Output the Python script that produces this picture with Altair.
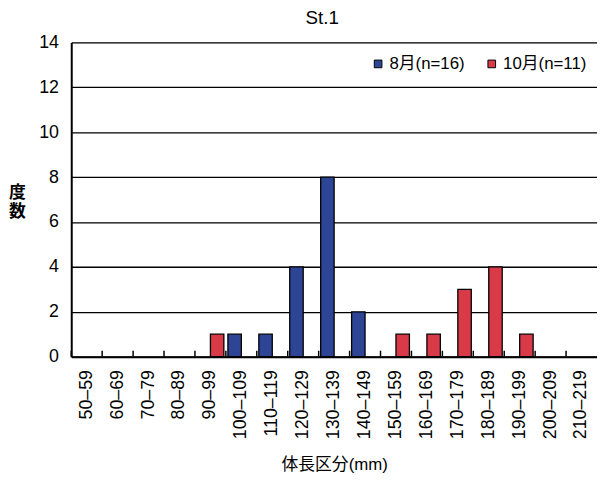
import altair as alt
import pandas as pd

categories = ["50–59", "60–69", "70–79", "80–89", "90–99", "100–109", "110–119",
              "120–129", "130–139", "140–149", "150–159", "160–169", "170–179",
              "180–189", "190–199", "200–209", "210–219"]
aug = [0, 0, 0, 0, 0, 1, 1, 4, 8, 2, 0, 0, 0, 0, 0, 0, 0]
octo = [0, 0, 0, 0, 1, 0, 0, 0, 0, 0, 1, 1, 3, 4, 1, 0, 0]
series = ["8月(n=16)", "10月(n=11)"]
colors = ["#2E4495", "#D83A48"]
y_ticks = [0, 2, 4, 6, 8, 10, 12, 14]

rows = []
for c, a, o in zip(categories, aug, octo):
    rows.append({"cat": c, "series": series[0], "n": a})
    rows.append({"cat": c, "series": series[1], "n": o})
df = pd.DataFrame(rows)
bars_df = df[df["n"] > 0]
ticks_df = pd.DataFrame({"cat": categories})

FONT = "Liberation Sans, Noto Sans CJK JP, sans-serif"
W, H = 532, 318

xscale = alt.Scale(domain=categories, paddingInner=0, paddingOuter=0)

bars = alt.Chart(bars_df).mark_bar(stroke="black", strokeWidth=1.3).encode(
    x=alt.X("cat:N", scale=xscale, sort=categories, title="体長区分(mm)",
            axis=alt.Axis(labelAngle=270, labelFontSize=18, labelColor="black",
                          labelFont=FONT, ticks=False, labelPadding=13,
                          domainColor="black", domainWidth=2,
                          titleFont=FONT, titleFontSize=17, titleFontWeight="normal",
                          titleColor="black", titlePadding=18)),
    xOffset=alt.XOffset("series:N", sort=series,
                        scale=alt.Scale(domain=series, paddingInner=0, paddingOuter=0.15)),
    y=alt.Y("n:Q", scale=alt.Scale(domain=[0, 14]),
            axis=alt.Axis(values=y_ticks, ticks=False, labelPadding=13,
                          labelFontSize=18, labelColor="black", labelFont=FONT,
                          domainColor="black", domainWidth=2,
                          grid=True, gridColor="black", gridWidth=1.3,
                          title=["度", "数"], titleAngle=0, titleFont=FONT,
                          titleFontSize=17, titleFontWeight="bold", titleColor="black",
                          titleX=-55, titleY=152, titleBaseline="middle",
                          titleAlign="center", titleLineHeight=19)),
    color=alt.Color("series:N", sort=series,
                    scale=alt.Scale(domain=series, range=colors),
                    legend=alt.Legend(title=None, orient="none", legendX=302, legendY=13,
                                      direction="horizontal", symbolType="square",
                                      symbolSize=60, symbolStrokeColor="black",
                                      symbolStrokeWidth=1, labelFont=FONT,
                                      labelFontSize=17, labelColor="black",
                                      columnPadding=18, labelOffset=3)),
)

ticks = alt.Chart(ticks_df).mark_rule(color="black", strokeWidth=1.5).encode(
    x=alt.X("cat:N", bandPosition=0, scale=xscale, sort=categories),
    y=alt.value(H - 6),
    y2=alt.value(H),
)

chart = alt.layer(bars, ticks).properties(
    width=W, height=H,
    title=alt.TitleParams("St.1", font=FONT, fontSize=19, fontWeight="normal",
                          color="black", dx=-12, offset=6),
    padding={"left": 64, "top": 32, "right": 0, "bottom": 125},
    autosize=alt.AutoSizeParams(type="none"),
).configure_view(stroke=None).configure(background="white")

chart.save("out.html", embed_options={"renderer": "svg", "actions": False})
